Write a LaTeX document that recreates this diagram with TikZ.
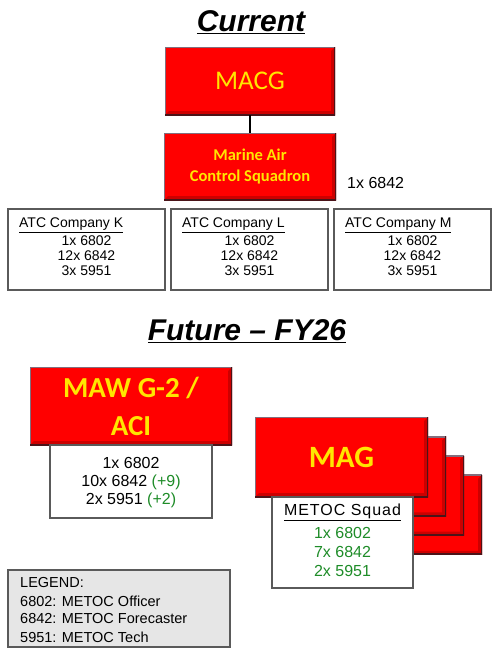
\documentclass[tikz,border=0pt]{standalone}
\usepackage{fontspec}
\setmainfont{Liberation Sans}
\newfontfamily\calfont{Carlito}
\definecolor{boxred}{RGB}{255,0,0}
\definecolor{bevelred}{RGB}{205,0,0}
\definecolor{topedge}{RGB}{130,110,125}
\definecolor{botedge}{RGB}{75,20,25}
\definecolor{txtyellow}{RGB}{255,230,0}
\definecolor{grn}{RGB}{30,140,40}
\definecolor{edgegray}{RGB}{90,90,90}
\definecolor{legfill}{RGB}{230,230,230}
\begin{document}
\begin{tikzpicture}[x=1pt,y=-1pt,
  redbox/.style={fill=boxred,draw=none,inner sep=0pt,text=txtyellow,align=center,
    path picture={
      \fill[bevelred] (path picture bounding box.south west)
        -- (path picture bounding box.south east)
        -- (path picture bounding box.north east)
        -- ([shift={(-4pt,-4pt)}]path picture bounding box.north east)
        -- ([shift={(-4pt,4pt)}]path picture bounding box.south east)
        -- ([shift={(4pt,4pt)}]path picture bounding box.south west) -- cycle;
      \draw[topedge,line width=2.4pt] (path picture bounding box.south west)
        -- (path picture bounding box.north west) -- (path picture bounding box.north east);
      \draw[botedge,line width=3pt] (path picture bounding box.north east)
        -- (path picture bounding box.south east) -- (path picture bounding box.south west);
    }},
  whitebox/.style={draw=edgegray,fill=white,line width=1.1pt,inner sep=0pt},
  title/.style={font=\fontsize{30}{32}\selectfont\bfseries\itshape,inner sep=0pt},
  body/.style={font=\fontsize{14}{15}\selectfont,inner sep=0pt},
  bigbody/.style={font=\fontsize{16}{18}\selectfont,inner sep=0pt},
  legtext/.style={font=\fontsize{14.5}{16}\selectfont,inner sep=0pt,anchor=west}]
\useasboundingbox (0,0) rectangle (500,657);
\fill[white] (0,0) rectangle (500,657);

% Current
\node[title] (tcur) at (251,22) {\underline{Current}};
\node[redbox,minimum width=170pt,minimum height=68pt,
  font=\calfont\fontsize{27}{30}\selectfont] (macg) at (250,81) {MACG};
\node[redbox,minimum width=172pt,minimum height=67pt,
  font=\calfont\bfseries\fontsize{16.5}{21}\selectfont] (mas) at (250,166.5) {Marine Air\\Control Squadron};
\draw[line width=2pt] (macg.south) -- (mas.north);
\node[font=\fontsize{16}{18}\selectfont,inner sep=0pt,anchor=west] (mas6842) at (347,183) {1x 6842};

\foreach \nm/\cx/\lt in {k/86.5/K,l/249.5/L,m/412.5/M}{
  \node[whitebox,minimum width=157pt,minimum height=81pt] (atc\nm) at (\cx,249.5) {};
  \node[body,anchor=west] (atc\nm h) at ([xshift=11.5pt]atc\nm.west |- 0,225) {\underline{ATC Company \lt}};
  \node[body] (atc\nm a) at (\cx,240.7) {1x 6802};
  \node[body] (atc\nm b) at (\cx,255.8) {12x 6842};
  \node[body] (atc\nm c) at (\cx,271) {3x 5951};
}

% Future
\node[title] (tfut) at (247,331) {\underline{Future -- FY26}};
\node[redbox,minimum width=202pt,minimum height=78pt,
  font=\calfont\bfseries\fontsize{29}{38}\selectfont] (maw) at (131,406) {MAW G-2 /\\ACI};
\node[whitebox,minimum width=162pt,minimum height=73pt] (mawbox) at (131,481.5) {};
\node[bigbody] (mawa) at (131,463) {1x 6802};
\node[bigbody] (mawb) at (131,482) {10x 6842 \textcolor{grn}{(+9)}};
\node[bigbody] (mawc) at (131,500.5) {2x 5951 \textcolor{grn}{(+2)}};

\foreach \k in {3,2,1}{
  \node[redbox,minimum width=173pt,minimum height=80pt] (mag\k) at (341.5+18*\k,457+19.3*\k) {};
}
\node[redbox,minimum width=173pt,minimum height=80pt,
  font=\calfont\bfseries\fontsize{31}{34}\selectfont] (mag) at (341.5,457) {MAG};
\node[whitebox,minimum width=141pt,minimum height=91pt] (metoc) at (342.5,542.5) {};
\node[bigbody] (metoch) at (342.5,512) {\addfontfeature{LetterSpace=6}\underline{METOC Squad}};
\node[bigbody,text=grn] (metoca) at (342.5,533) {1x 6802};
\node[bigbody,text=grn] (metocb) at (342.5,552) {7x 6842};
\node[bigbody,text=grn] (metocc) at (342.5,570.5) {2x 5951};

% Legend
\node[draw=edgegray,fill=legfill,line width=1.1pt,minimum width=222pt,minimum height=77pt,inner sep=0pt] (legend) at (119,608.5) {};
\node[legtext] (lg0) at (20,583) {LEGEND:};
\node[legtext] (lg1) at (20,601) {6802: METOC Officer};
\node[legtext] (lg2) at (20,619) {6842: METOC Forecaster};
\node[legtext] (lg3) at (20,637) {5951: METOC Tech};
\end{tikzpicture}
\end{document}
